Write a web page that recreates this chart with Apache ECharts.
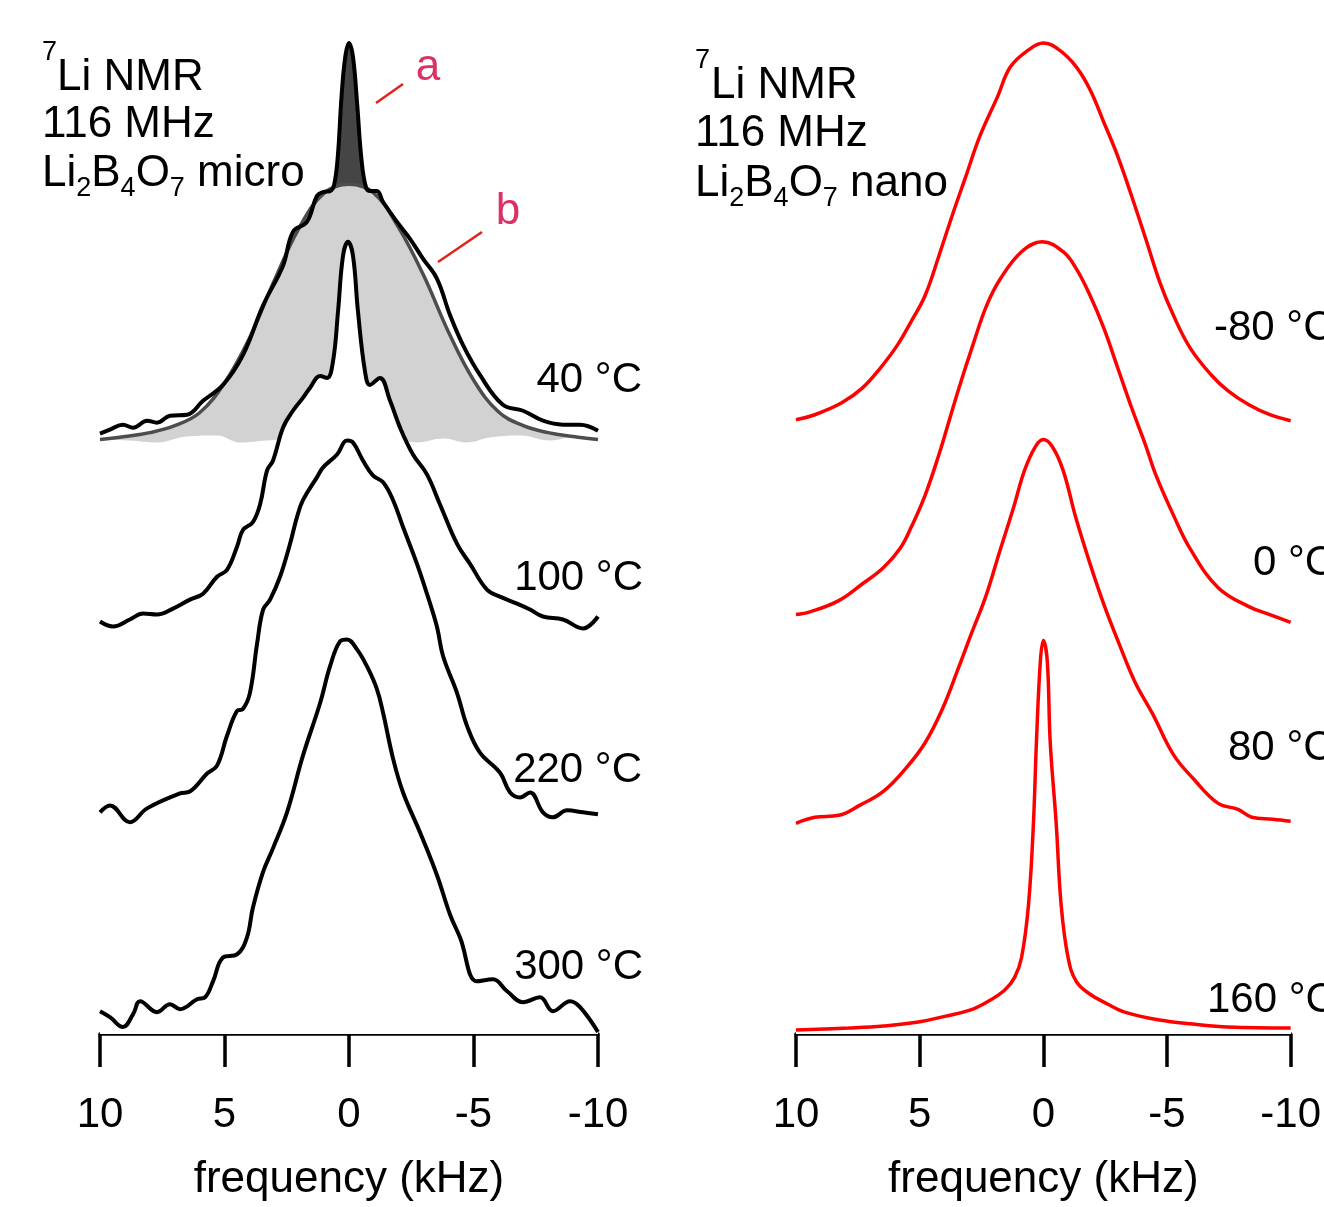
<!DOCTYPE html>
<html>
<head>
<meta charset="utf-8">
<script src="https://cdn.jsdelivr.net/npm/echarts@6/dist/echarts.min.js"></script>
<style>
html, body { margin: 0; padding: 0; background: #fff; }
#chart { width: 1324px; height: 1207px; }
</style>
</head>
<body>
<div id="chart"></div>
<script>
// frequency (kHz) / intensity pairs
const micro40 = [[10, 6], [9.6, 10], [9.08, 15], [8.67, 12], [8.11, 19], [7.71, 17], [7.19, 24], [6.51, 25],
    [5.86, 39], [5.06, 55], [4.26, 85], [3.45, 135], [2.65, 175], [2.25, 209], [1.69, 219], [1.29, 245],
    [1.04, 249], [0.76, 250], [0.6, 256], [0.45, 285], [0.3, 345], [0.15, 385], [0, 399], [-0.16, 385],
    [-0.32, 340], [-0.5, 282], [-0.68, 254], [-0.85, 250], [-1.12, 250], [-1.37, 239], [-1.93, 219],
    [-2.45, 202], [-2.97, 182], [-3.53, 162], [-4.06, 125], [-4.58, 95], [-5.26, 65], [-6.18, 35],
    [-6.99, 29], [-7.79, 19], [-8.59, 15], [-9.28, 15], [-10, 9]];
const broadFit = [[10, 0], [9, 3], [8, 7], [7, 14], [6, 27], [5, 57], [4, 102], [3, 160], [2, 213], [1, 248],
    [0, 257], [-1, 248], [-2, 213], [-3, 165], [-4, 108], [-5, 60], [-6, 28], [-7, 14], [-8, 7], [-9, 3], [-10, 0]];
const broadBase = [[10, 0], [8.8, -1], [7.71, -3], [6.51, 3], [5.3, 4], [4.38, -3], [3.29, -1], [2, 1], [0, 0],
    [-1.5, 1], [-2.73, -3], [-3.78, 1], [-4.74, -3], [-5.66, 2], [-6.87, 4], [-8.07, -1], [-9.16, 3], [-10, 0]];
const micro100 = [[10, -5], [9.48, -10], [8.8, -3], [8.27, 3], [7.71, 2], [7.07, 8], [6.39, 17], [5.86, 23],
    [5.3, 40], [4.9, 47], [4.5, 70], [4.26, 87], [3.86, 95], [3.57, 113], [3.29, 147], [3.05, 157], [2.65, 190],
    [2.25, 207], [1.85, 220], [1.57, 230], [1.16, 242], [0.88, 240], [0.64, 257], [0.44, 307], [0.24, 363],
    [0.04, 377], [-0.16, 363], [-0.36, 307], [-0.64, 247], [-0.84, 233], [-1.24, 240], [-1.65, 217],
    [-2.05, 190], [-2.57, 163], [-3.13, 143], [-3.65, 113], [-4.34, 73], [-4.86, 53], [-5.54, 27], [-6.06, 20],
    [-6.75, 13], [-7.27, 7], [-7.79, 0], [-8.59, -3], [-9.4, -12], [-10, 0]];
const micro220 = [[10, 1], [9.6, 8], [8.8, -9], [8.11, 5], [6.79, 20], [6.39, 22], [5.7, 40], [5.3, 48],
    [4.9, 78], [4.5, 103], [4.26, 105], [3.98, 121], [3.69, 171], [3.45, 205], [3.17, 215], [2.77, 238],
    [2.37, 271], [2.09, 298], [1.85, 315], [1.29, 338], [1.04, 348], [0.48, 361], [0.08, 375], [-0.16, 373],
    [-0.56, 355], [-0.96, 340], [-1.37, 333], [-1.77, 315], [-2.17, 288], [-2.73, 251], [-3.13, 221],
    [-3.53, 188], [-3.78, 158], [-4.34, 121], [-4.74, 88], [-5.26, 61], [-6.06, 41], [-6.47, 21], [-6.87, 16],
    [-7.27, 21], [-7.79, 1], [-8.19, -4], [-8.76, 3], [-9.4, 1], [-10, -1]];
const micro300 = [[10, -2], [9.6, -8], [9.08, -18], [8.67, -5], [8.39, 8], [7.71, -3], [7.19, 5], [6.79, 0],
    [6.1, 10], [5.78, 12], [5.46, 28], [5.06, 52], [4.5, 55], [4.1, 72], [3.86, 102], [3.45, 138], [3.05, 162],
    [2.49, 198], [1.85, 255], [1.16, 308], [0.76, 345], [0.36, 370], [0.08, 372], [-0.32, 362], [-0.72, 345],
    [-1.12, 322], [-1.37, 298], [-1.77, 252], [-2.17, 218], [-2.85, 178], [-3.53, 135], [-4.06, 95],
    [-4.46, 72], [-5.14, 28], [-5.78, 30], [-6.35, 18], [-6.99, 7], [-7.67, 12], [-8.19, -2], [-8.88, 8],
    [-9.28, 2], [-10, -23]];

const nanoM80 = [[10, 0], [9.24, 5], [8.15, 17], [7.31, 32], [6.59, 52], [5.9, 75], [5.34, 99], [4.78, 125],
    [4.22, 165], [3.69, 205], [3.13, 245], [2.57, 285], [1.85, 325], [1.33, 355], [0.6, 372], [0, 379],
    [-0.64, 372], [-1.33, 355], [-1.89, 332], [-2.45, 299], [-3.01, 265], [-3.57, 225], [-4.14, 182],
    [-4.7, 139], [-5.26, 105], [-5.94, 72], [-6.79, 45], [-7.47, 29], [-8.31, 15], [-9.16, 5], [-10, -1]];
const nano0 = [[10, 0], [9.4, 3], [8.27, 14], [7.31, 31], [6.47, 47], [5.78, 67], [5.34, 88], [4.78, 120],
    [4.22, 161], [3.82, 194], [3.41, 228], [2.85, 271], [2.29, 311], [1.73, 338], [0.88, 365], [0.04, 375],
    [-0.8, 365], [-1.33, 348], [-1.89, 321], [-2.45, 288], [-3.01, 248], [-3.57, 208], [-4.14, 170],
    [-4.54, 141], [-5.26, 100], [-5.94, 66], [-7.07, 27], [-8.31, 8], [-9.16, 0], [-10, -8]];
const nano80 = [[10, 0], [9.24, 6], [8.27, 8], [7.43, 18], [6.47, 32], [5.5, 57], [4.78, 81], [4.1, 114],
    [3.45, 155], [2.89, 192], [2.33, 228], [1.77, 273], [1.2, 318], [0.76, 355], [0.32, 379], [0, 386],
    [-0.36, 379], [-0.8, 355], [-1.33, 306], [-1.89, 261], [-2.45, 220], [-3.01, 184], [-3.69, 143],
    [-4.42, 110], [-5.26, 69], [-6.06, 45], [-7.07, 20], [-7.87, 14], [-8.43, 6], [-9.28, 4], [-10, 2]];
const nano160 = [[10, 0], [7.87, 2], [6.47, 4], [5.06, 8], [3.94, 14], [2.97, 20], [2.29, 28], [1.57, 40],
    [1.16, 53], [0.88, 73], [0.6, 126], [0.4, 208], [0.28, 289], [0.12, 371], [0, 392], [-0.16, 371],
    [-0.28, 289], [-0.52, 208], [-0.72, 126], [-1, 73], [-1.33, 49], [-1.89, 36], [-2.61, 26], [-3.29, 18],
    [-4.7, 10], [-6.06, 6], [-7.47, 3], [-10, 2]];

// vertical offsets of the stacked traces
const microOffsets = {t40: 598, t100: 420, t220: 222, t300: 25};
const nanoOffsets = {m80: 618, t0: 422, t80: 212, t160: 4};

const FONT = '"Liberation Sans", Arial, Helvetica, sans-serif';
const chart = echarts.init(document.getElementById('chart'));

function lift(points, off) {
    return points.map(p => [p[0], p[1] + off]);
}

function trace(grid, points, off, z, color, fill, width) {
    return {
        type: 'line',
        xAxisIndex: grid,
        yAxisIndex: grid,
        data: lift(points, off),
        showSymbol: false,
        smooth: 0.4,
        silent: true,
        z: z,
        lineStyle: color ? {color: color, width: width || 4} : {width: 0},
        areaStyle: fill ? {color: fill, opacity: 1, origin: 'start'} : null,
    };
}

function xAxis(grid) {
    return {
        gridIndex: grid,
        type: 'value',
        min: -10,
        max: 10,
        interval: 5,
        inverse: true,
        name: 'frequency (kHz)',
        nameLocation: 'middle',
        nameGap: 124,
        nameTextStyle: {fontSize: 44, color: '#000', fontFamily: FONT},
        axisLine: {lineStyle: {color: '#000', width: 3.5}},
        axisTick: {length: 33, lineStyle: {color: '#000', width: 3.5}},
        axisLabel: {fontSize: 42, color: '#000', margin: 60, fontFamily: FONT,
            showMinLabel: true, showMaxLabel: true},
        splitLine: {show: false},
    };
}

function yAxis(grid) {
    return {gridIndex: grid, type: 'value', min: 0, max: 1000, show: false};
}

function label(text, x, y, align, color, size) {
    return {
        type: 'text',
        z: 100,
        style: {text: text, x: x, y: y, fill: color || '#000', font: (size || 42) + 'px ' + FONT,
            align: align || 'left', verticalAlign: 'middle'},
    };
}

function formula(text, x, y) {
    return {
        type: 'text',
        z: 100,
        style: {
            text: text, x: x, y: y, fill: '#000', align: 'left', verticalAlign: 'middle',
            rich: {
                m: {fontSize: 44, lineHeight: 50, fontFamily: FONT},
                s: {fontSize: 27, lineHeight: 18, padding: [30, 0, 0, 0], fontFamily: FONT},
            },
        },
    };
}

function sup(text, x, y) {
    return {
        type: 'text',
        z: 100,
        style: {text: text, x: x, y: y, fill: '#000', font: '27px ' + FONT, align: 'left', verticalAlign: 'middle'},
    };
}

const narrowPart = micro40.filter(p => Math.abs(p[0]) <= 1.1);

const option = {
    animation: false,
    backgroundColor: '#fff',
    grid: [
        {left: 100, top: 40, width: 498, height: 1000},
        {left: 796, top: 40, width: 498, height: 1000},
    ],
    xAxis: [xAxis(0), xAxis(1)],
    yAxis: [yAxis(0), yAxis(1)],
    series: [
        // 40 °C deconvolution: narrow (a) and broad (b) components
        trace(0, narrowPart, microOffsets.t40, 1, null, '#454545'),
        trace(0, broadFit, microOffsets.t40, 2, null, '#d2d2d2'),
        trace(0, broadBase, microOffsets.t40, 3, null, '#ffffff'),
        trace(0, broadFit, microOffsets.t40, 4, '#4d4d4d', null, 3.5),
        trace(0, micro40, microOffsets.t40, 5, '#000', null),
        trace(0, micro100, microOffsets.t100, 6, '#000', '#fff'),
        trace(0, micro220, microOffsets.t220, 7, '#000', '#fff'),
        trace(0, micro300, microOffsets.t300, 8, '#000', '#fff'),

        trace(1, nanoM80, nanoOffsets.m80, 5, '#ff0000', '#fff', 3.5),
        trace(1, nano0, nanoOffsets.t0, 6, '#ff0000', '#fff', 3.5),
        trace(1, nano80, nanoOffsets.t80, 7, '#ff0000', '#fff', 3.5),
        trace(1, nano160, nanoOffsets.t160, 8, '#ff0000', '#fff', 3.5),
    ],
    graphic: [
        sup('7', 42, 53),
        label('Li NMR', 57, 78, 'left', null, 44),
        label('116 MHz', 42, 125, 'left', null, 44),
        formula('{m|Li}{s|2}{m|B}{s|4}{m|O}{s|7}{m| micro}', 42, 174),

        sup('7', 695, 61),
        label('Li NMR', 711, 86, 'left', null, 44),
        label('116 MHz', 695, 134, 'left', null, 44),
        formula('{m|Li}{s|2}{m|B}{s|4}{m|O}{s|7}{m| nano}', 695, 184),

        label('40 °C', 642, 380, 'right'),
        label('100 °C', 643, 578, 'right'),
        label('220 °C', 642, 770, 'right'),
        label('300 °C', 643, 967, 'right'),

        label('-80 °C', 1214, 328),
        label('0 °C', 1253, 563),
        label('80 °C', 1228, 748),
        label('160 °C', 1207, 1000),

        label('a', 428, 68, 'center', '#dc3261', 44),
        label('b', 508, 212, 'center', '#dc3261', 44),
        {type: 'line', z: 100, shape: {x1: 376, y1: 103, x2: 403, y2: 84}, style: {stroke: '#e2231a', lineWidth: 2.5}},
        {type: 'line', z: 100, shape: {x1: 438, y1: 262, x2: 482, y2: 232}, style: {stroke: '#e2231a', lineWidth: 2.5}},
    ],
};

chart.setOption(option);
</script>
</body>
</html>
